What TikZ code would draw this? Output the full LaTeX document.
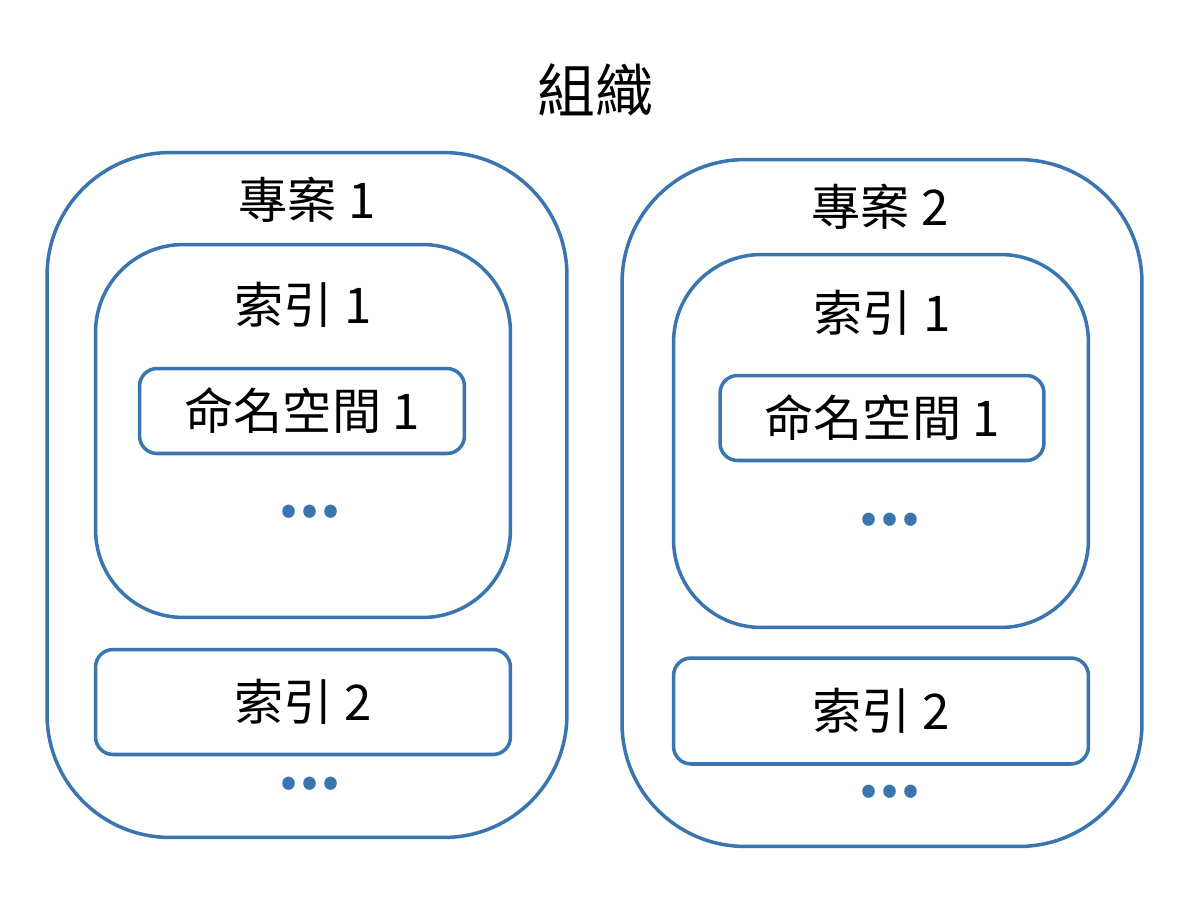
\documentclass[tikz,border=0pt]{standalone}
\usepackage{fontspec}
\newfontfamily\cjk{Noto Sans CJK TC}
\usetikzlibrary{positioning}
\definecolor{boxblue}{HTML}{3A75B0}

\begin{document}
\begin{tikzpicture}[x=0.02cm,y=-0.02cm,
	box/.style={draw=boxblue,line width=2pt,rounded corners=#1,inner sep=0pt},
	lbl/.style={font=\cjk\fontsize{28}{32}\selectfont,text=black},
	dots/.style={text=boxblue,font=\cjk\bfseries\fontsize{34}{36}\selectfont}]
	\useasboundingbox (0,0) rectangle (1190,896);
	\node[font=\cjk\fontsize{33}{38}\selectfont] (org) at (595,90) {組織};
	% project 1
	\node[box=70pt,minimum width=10.4cm,minimum height=13.7cm] (p1) at (307,495) {};
	\node[lbl] (p1t) at (307,200) {專案 1};
	\node[box=50pt,minimum width=8.3cm,minimum height=7.46cm] (p1i1) at (303,431) {};
	\node[lbl] (p1i1t) at (303,305) {索引 1};
	\node[box=10pt,minimum width=6.5cm,minimum height=1.7cm] (p1n1) at (302,411) {};
	\node[lbl] at (p1n1) {命名空間 1};
	\node[dots] (p1d1) at (310,512) {...};
	\node[box=10pt,minimum width=8.3cm,minimum height=2.1cm] (p1i2) at (303,702) {};
	\node[lbl] at (p1i2) {索引 2};
	\node[dots] (p1d2) at (310,784) {...};
	% project 2
	\node[box=70pt,minimum width=10.4cm,minimum height=13.74cm] (p2) at (882,503) {};
	\node[lbl] (p2t) at (880,207) {專案 2};
	\node[box=50pt,minimum width=8.3cm,minimum height=7.46cm] (p2i1) at (881,441) {};
	\node[lbl] (p2i1t) at (882,313) {索引 1};
	\node[box=10pt,minimum width=6.48cm,minimum height=1.7cm] (p2n1) at (882,418) {};
	\node[lbl] at (p2n1) {命名空間 1};
	\node[dots] (p2d1) at (890,520) {...};
	\node[box=10pt,minimum width=8.3cm,minimum height=2.12cm] (p2i2) at (881,711) {};
	\node[lbl] at (p2i2) {索引 2};
	\node[dots] (p2d2) at (890,792) {...};
\end{tikzpicture}
\end{document}
